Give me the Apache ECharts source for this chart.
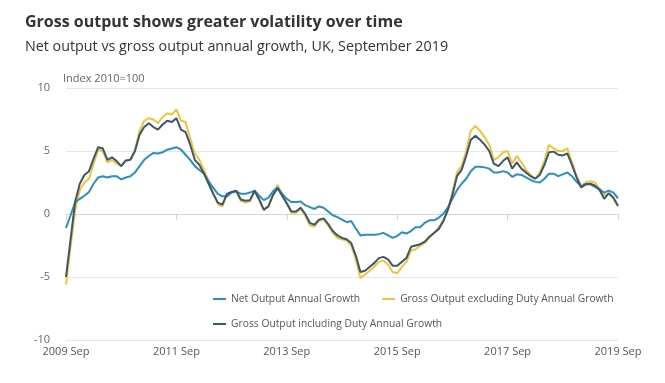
<!DOCTYPE html>
<html><head><meta charset="utf-8">
<script src="https://cdn.jsdelivr.net/npm/echarts@6/dist/echarts.min.js"></script>
<style>html,body{margin:0;padding:0;background:#fff}#c{width:665px;height:383px}</style>
</head><body><div id="c"></div>
<script>
// Monthly categories from 2009 Sep to 2019 Sep
const startYear = 2009, startMonth = 8, monthCount = 121;
const monthNames = ['Jan','Feb','Mar','Apr','May','Jun','Jul','Aug','Sep','Oct','Nov','Dec'];
const categories = [];
for (let k = 0; k < monthCount; k++) {
  const m = startMonth + k;
  categories.push((startYear + Math.floor(m / 12)) + ' ' + monthNames[m % 12]);
}
const yTicks = [-10, -5, 0, 5, 10];

const netOutput = [
 -1.1,-0.1,0.95,1.2,1.45,1.75,2.4,2.9,3.0,2.9,3.0,3.0,2.75,2.9,3.0,3.3,3.8,4.3,4.6,4.85,
 4.8,4.9,5.1,5.2,5.3,5.1,4.7,4.3,3.8,3.5,3.2,2.6,2.1,1.6,1.4,1.4,1.7,1.8,1.6,1.6,
 1.7,1.85,1.45,1.1,1.3,1.8,2.1,1.6,1.2,0.95,0.95,1.0,0.7,0.55,0.4,0.6,0.5,0.2,-0.1,-0.25,
 -0.45,-0.65,-0.55,-1.15,-1.7,-1.65,-1.65,-1.65,-1.6,-1.5,-1.7,-1.9,-1.75,-1.45,-1.55,-1.35,-1.05,-1.05,-0.7,-0.5,
 -0.5,-0.3,0.0,0.5,1.2,1.9,2.4,2.8,3.4,3.75,3.75,3.7,3.6,3.3,3.3,3.4,3.3,2.95,3.15,3.1,
 2.9,2.7,2.55,2.5,2.8,3.2,3.2,3.0,3.15,3.3,3.0,2.55,2.2,2.4,2.35,2.15,1.95,1.7,1.85,1.7,
 1.25
];
const grossExclDuty = [
 -5.6,-2.6,0.3,1.9,2.5,2.8,4.0,5.1,5.0,4.1,4.3,4.0,3.8,4.2,4.3,5.1,6.6,7.4,7.6,7.5,
 7.2,7.7,8.0,7.9,8.3,7.4,7.3,6.0,4.8,4.3,3.5,2.6,1.7,0.8,0.6,1.6,1.7,1.8,1.05,0.9,
 1.0,1.8,1.1,0.3,0.6,1.6,2.3,1.5,0.8,0.1,0.1,0.4,-0.1,-0.9,-1.0,-0.55,-0.4,-0.9,-1.5,-1.9,
 -2.0,-2.1,-2.5,-3.6,-5.1,-4.8,-4.5,-4.2,-3.8,-3.7,-4.0,-4.6,-4.7,-4.2,-3.8,-2.9,-2.8,-2.5,-2.3,-1.9,
 -1.5,-1.1,-0.5,0.4,1.7,3.3,3.8,5.0,6.6,7.0,6.6,6.1,5.5,4.3,4.5,4.9,5.0,4.0,4.6,4.1,
 3.5,3.1,2.8,3.3,4.2,5.5,5.2,5.0,5.0,5.2,4.1,3.0,2.2,2.5,2.6,2.5,2.0,1.5,1.6,1.2,
 0.6
];
const grossInclDuty = [
 -5.0,-2.0,1.0,2.4,3.1,3.4,4.4,5.3,5.2,4.3,4.5,4.2,3.8,4.25,4.3,5.0,6.3,6.9,7.2,6.9,
 6.7,7.1,7.4,7.3,7.6,6.7,6.5,5.5,4.3,3.9,3.2,2.4,1.6,0.9,0.75,1.6,1.75,1.85,1.15,1.05,
 1.1,1.85,1.15,0.35,0.6,1.5,2.05,1.45,0.85,0.2,0.2,0.5,0.0,-0.7,-0.85,-0.45,-0.35,-0.8,-1.35,-1.7,
 -1.9,-2.0,-2.3,-3.3,-4.6,-4.5,-4.2,-3.9,-3.5,-3.4,-3.6,-4.1,-4.1,-3.8,-3.5,-2.6,-2.5,-2.4,-2.2,-1.8,
 -1.5,-1.2,-0.6,0.3,1.5,3.0,3.5,4.6,5.9,6.2,5.9,5.5,5.0,4.0,3.8,4.2,4.5,3.6,4.1,3.6,
 3.3,3.0,2.8,3.1,3.9,4.9,4.95,4.7,4.65,4.8,3.9,2.9,2.1,2.35,2.4,2.25,1.9,1.2,1.65,1.3,
 0.65
];

const FONT = '"Open Sans", sans-serif';
const chart = echarts.init(document.getElementById('c'), null, {renderer: 'canvas'});
const names = ['Net Output Annual Growth','Gross Output excluding Duty Annual Growth','Gross Output including Duty Annual Growth'];
const colors = ['#2a8fc0','#f0c43a','#3c5670'];
const mk = (name, data, color, z) => ({
  name, type: 'line', data, showSymbol: false, symbol: 'none', smooth: false, z,
  lineStyle: {color, width: 2}, itemStyle: {color}, emphasis: {disabled: true}
});
chart.setOption({
  animation: false,
  textStyle: {fontFamily: FONT},
  title: [
    {text: 'Gross output shows greater volatility over time', left: 20, top: 9,
     textStyle: {fontFamily: FONT, fontSize: 16, fontWeight: 'bold', color: '#333'}},
    {text: 'Net output vs gross output annual growth, UK, September 2019', left: 20, top: 35,
     textStyle: {fontFamily: FONT, fontSize: 14.3, fontWeight: 'normal', color: '#333'}}
  ],
  graphic: [{type: 'text', left: 63, top: 73,
    style: {text: 'Index 2010=100', fontFamily: FONT, fontSize: 11, fill: '#666'}}],
  legend: [
    {data: [names[0], names[1]], left: 208, top: 289, icon: 'rect', itemWidth: 13, itemHeight: 2, itemGap: 22,
     textStyle: {fontFamily: FONT, fontSize: 10.3, color: '#555'}},
    {data: [names[2]], left: 208, top: 314, icon: 'rect', itemWidth: 13, itemHeight: 2,
     textStyle: {fontFamily: FONT, fontSize: 10.3, color: '#555'}}
  ],
  grid: {left: 66, right: 47, top: 88, bottom: 43, containLabel: false},
  xAxis: {
    type: 'category', data: categories, boundaryGap: false,
    axisLine: {lineStyle: {color: '#ccd6eb'}},
    axisTick: {alignWithLabel: true, interval: 23, length: 6, lineStyle: {color: '#ccd6eb'}},
    axisLabel: {interval: 23, color: '#555', fontSize: 11, fontFamily: FONT, margin: 6,
      formatter: v => v},
    splitLine: {show: false}
  },
  yAxis: {
    type: 'value', min: yTicks[0], max: yTicks[yTicks.length - 1], interval: 5,
    axisLine: {show: false}, axisTick: {show: false},
    axisLabel: {color: '#666', fontSize: 11, fontFamily: FONT, margin: 16},
    splitLine: {lineStyle: {color: '#e6e6e6'}}
  },
  series: [
    mk(names[0], netOutput, colors[0], 3),
    mk(names[1], grossExclDuty, colors[1], 2),
    mk(names[2], grossInclDuty, colors[2], 4)
  ]
});
</script></body></html>
